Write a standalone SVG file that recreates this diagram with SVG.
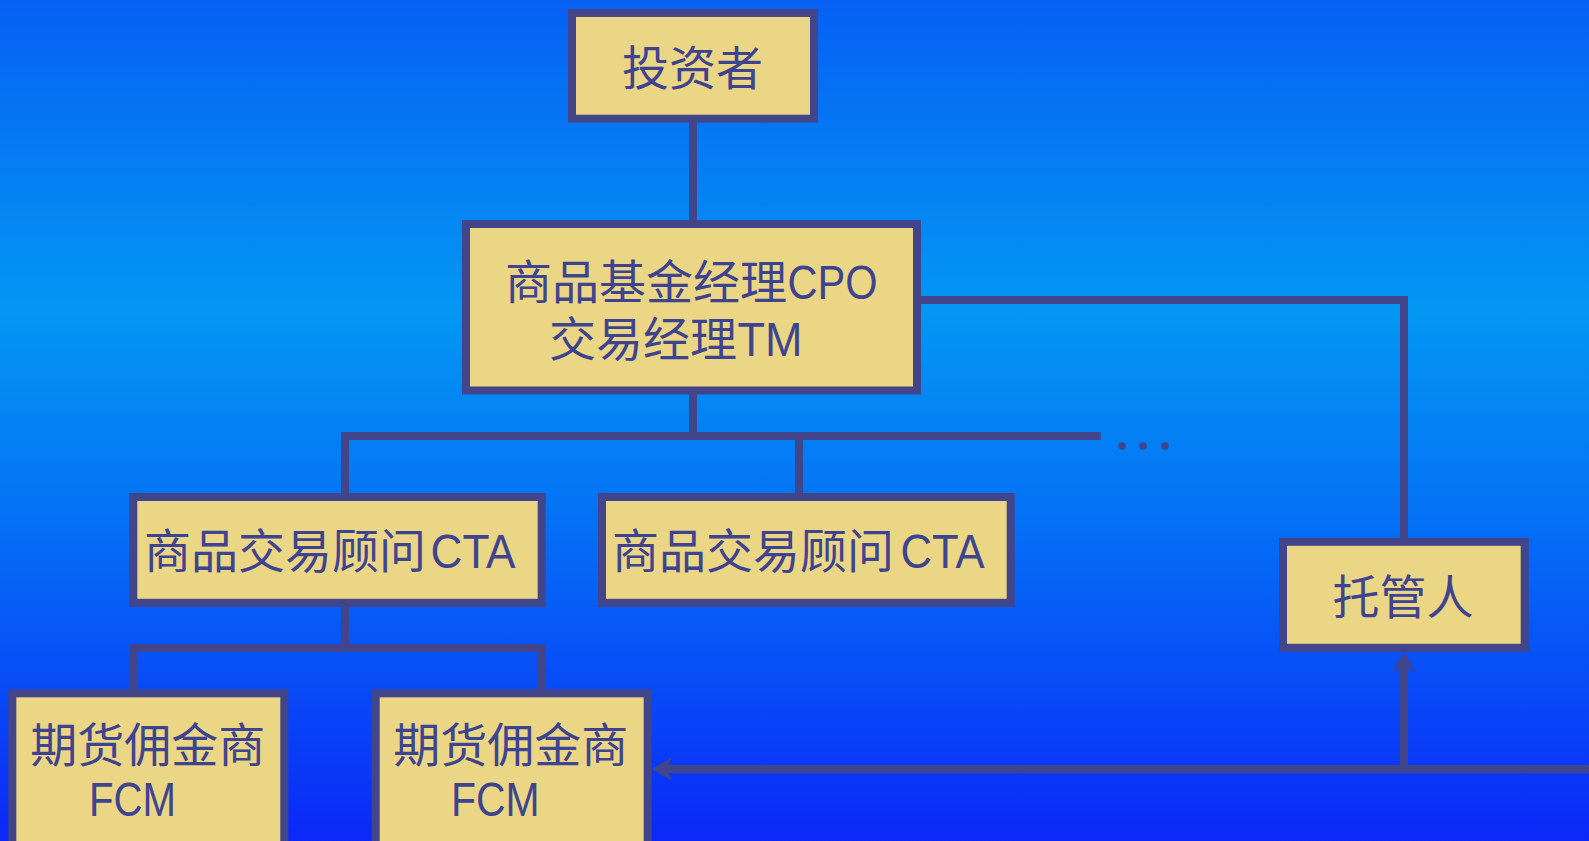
<svg xmlns="http://www.w3.org/2000/svg" width="1589" height="841" viewBox="0 0 1589 841">
<defs>
<linearGradient id="bg" x1="0" y1="0" x2="0" y2="1">
<stop offset="0" stop-color="#0660F4"/>
<stop offset="0.37" stop-color="#0397F3"/>
<stop offset="0.62" stop-color="#0470F5"/>
<stop offset="1" stop-color="#0B28F8"/>
</linearGradient>
<marker id="arr" markerUnits="userSpaceOnUse" markerWidth="22" markerHeight="24" viewBox="0 -12 22 24" refX="5" refY="0" orient="auto" overflow="visible">
<path d="M0,-11.5 L20,0 L0,11.5 L5,0 Z" fill="#42458A"/>
</marker>
</defs>
<style>
.box{fill:#EAD684;stroke:#42458A;stroke-width:8}
.t{font-family:"Liberation Sans","Noto Sans CJK SC",sans-serif;font-size:47px;fill:#3F4490}
.lat{font-size:48px}
.c{text-anchor:middle}
.ln{fill:none;stroke:#42458A;stroke-width:8;stroke-linejoin:miter}
.dot{fill:#42458A}
</style>
<rect width="1589" height="841" fill="url(#bg)"/>
<g id="connectors">
<path class="ln" d="M693,122 V220"/>
<path class="ln" d="M693,394 V436"/>
<path class="ln" d="M345,493 V436 H1100.7"/>
<path class="ln" d="M799,436 V493"/>
<path class="ln" d="M921,300 H1404 V538"/>
<path class="ln" d="M345,606 V648"/>
<path class="ln" d="M133,690 V648 H541.5 V690"/>
<path class="ln" d="M1589,769 H666.7" marker-end="url(#arr)"/>
<path class="ln" d="M1404,769 V666.7" marker-end="url(#arr)"/>
<circle class="dot" cx="1122" cy="446" r="3.8"/>
<circle class="dot" cx="1143" cy="446" r="3.8"/>
<circle class="dot" cx="1165" cy="446" r="3.8"/>
</g>
<g id="investor">
<rect class="box" x="572" y="13" width="242" height="105.7"/>
<text class="t c" x="692.5" y="85">投资者</text>
</g>
<g id="cpo">
<rect class="box" x="466" y="224" width="451" height="166.5"/>
<text class="t" x="505" y="299">商品基金经理<tspan class="lat" x="787.5" textLength="90" lengthAdjust="spacingAndGlyphs">CPO</tspan></text>
<text class="t" x="549" y="356">交易经理<tspan class="lat" x="737.5" textLength="65" lengthAdjust="spacingAndGlyphs">TM</tspan></text>
</g>
<g id="cta1">
<rect class="box" x="133.3" y="497" width="408.4" height="105.8"/>
<text class="t" x="144" y="568">商品交易顾问<tspan class="lat" x="430.5" textLength="85" lengthAdjust="spacingAndGlyphs">CTA</tspan></text>
</g>
<g id="cta2">
<rect class="box" x="602" y="497" width="408.7" height="105.8"/>
<text class="t" x="612" y="568">商品交易顾问<tspan class="lat" x="900.5" textLength="84" lengthAdjust="spacingAndGlyphs">CTA</tspan></text>
</g>
<g id="custodian">
<rect class="box" x="1283" y="541.8" width="241.7" height="106"/>
<text class="t c" x="1403" y="614">托管人</text>
</g>
<g id="fcm1">
<rect class="box" x="12.3" y="693.3" width="272" height="160"/>
<text class="t c" x="147.7" y="761.5">期货佣金商</text>
<text class="t lat" x="89" y="816" textLength="87" lengthAdjust="spacingAndGlyphs">FCM</text>
</g>
<g id="fcm2">
<rect class="box" x="375.7" y="693.3" width="272" height="160"/>
<text class="t c" x="510.8" y="761.5">期货佣金商</text>
<text class="t lat" x="451" y="816" textLength="88.5" lengthAdjust="spacingAndGlyphs">FCM</text>
</g>
</svg>
